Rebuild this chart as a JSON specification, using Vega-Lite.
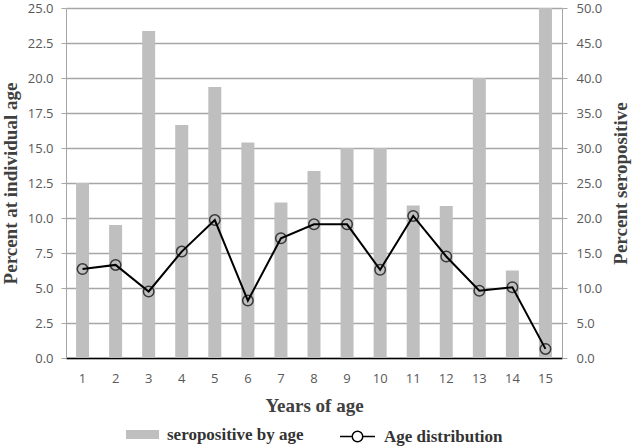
{
  "$schema": "https://vega.github.io/schema/vega-lite/v6.json",
  "width": 496,
  "height": 350,
  "autosize": {"type": "none"},
  "padding": {"left": 66, "top": 8, "right": 71, "bottom": 90},
  "background": "white",
  "data": {
    "values": [
      {"age": 1, "sero": 25.0, "dist": 6.35},
      {"age": 2, "sero": 19.0, "dist": 6.65},
      {"age": 3, "sero": 46.7, "dist": 4.75},
      {"age": 4, "sero": 33.3, "dist": 7.6},
      {"age": 5, "sero": 38.7, "dist": 9.85},
      {"age": 6, "sero": 30.8, "dist": 4.1},
      {"age": 7, "sero": 22.2, "dist": 8.55},
      {"age": 8, "sero": 26.7, "dist": 9.55},
      {"age": 9, "sero": 30.0, "dist": 9.55},
      {"age": 10, "sero": 30.0, "dist": 6.3},
      {"age": 11, "sero": 21.8, "dist": 10.15},
      {"age": 12, "sero": 21.7, "dist": 7.25},
      {"age": 13, "sero": 40.0, "dist": 4.8},
      {"age": 14, "sero": 12.5, "dist": 5.05},
      {"age": 15, "sero": 50.0, "dist": 0.65}
    ]
  },
  "encoding": {
    "x": {
      "field": "age",
      "type": "ordinal",
      "title": "Years of age",
      "axis": {
        "labelAngle": 0,
        "labelFont": "Open Sans",
        "labelFontSize": 13,
        "labelColor": "#595959",
        "labelPadding": 14,
        "ticks": false,
        "domainColor": "#000000",
        "domainWidth": 1.5,
        "titleFont": "Liberation Serif",
        "titleFontSize": 19,
        "titleFontWeight": "bold",
        "titleColor": "#404040",
        "titlePadding": 11
      }
    }
  },
  "layer": [
    {
      "mark": {"type": "bar", "size": 13},
      "encoding": {
        "y": {
          "field": "sero",
          "type": "quantitative",
          "scale": {"domain": [0, 50]},
          "title": "Percent seropositive",
          "axis": {
            "orient": "right",
            "values": [0, 5, 10, 15, 20, 25, 30, 35, 40, 45, 50],
            "format": ".1f",
            "grid": false,
            "labelFont": "Open Sans",
            "labelFontSize": 13,
            "labelColor": "#595959",
            "domainColor": "#a6a6a6",
            "tickColor": "#a6a6a6",
            "tickSize": 5,
            "labelPadding": 9,
            "titleFont": "Liberation Serif",
            "titleFontSize": 19,
            "titleFontWeight": "bold",
            "titleColor": "#404040",
            "titleAngle": 270,
            "titleAlign": "center",
            "titleBaseline": "middle",
            "titleX": 58,
            "titleY": 175
          }
        },
        "color": {
          "datum": "seropositive by age",
          "scale": {"range": ["#bfbfbf"]},
          "legend": {
            "title": null,
            "orient": "none",
            "legendX": 60,
            "legendY": 410,
            "padding": 0,
            "symbolType": "M-1,-0.27H1V0.27H-1Z",
            "symbolSize": 1089,
            "symbolFillColor": "#a6a6a6",
            "symbolStrokeWidth": 0,
            "labelOffset": 8,
            "labelFont": "Liberation Serif",
            "labelFontSize": 17,
            "labelFontWeight": "bold",
            "labelColor": "#333333"
          }
        }
      }
    },
    {
      "mark": {"type": "line", "strokeWidth": 2},
      "encoding": {
        "y": {
          "field": "dist",
          "type": "quantitative",
          "scale": {"domain": [0, 25]},
          "title": "Percent at individual age",
          "axis": {
            "orient": "left",
            "values": [0, 2.5, 5, 7.5, 10, 12.5, 15, 17.5, 20, 22.5, 25],
            "format": ".1f",
            "grid": true,
            "gridColor": "#a6a6a6",
            "gridWidth": 1.5,
            "labelFont": "Open Sans",
            "labelFontSize": 13,
            "labelColor": "#595959",
            "domainColor": "#a6a6a6",
            "tickColor": "#a6a6a6",
            "tickSize": 5,
            "labelPadding": 8,
            "titleFont": "Liberation Serif",
            "titleFontSize": 19,
            "titleFontWeight": "bold",
            "titleColor": "#404040",
            "titlePadding": 7
          }
        },
        "stroke": {
          "datum": "Age distribution",
          "scale": {"range": ["#000000"]},
          "legend": {
            "title": null,
            "orient": "none",
            "legendX": 273,
            "legendY": 410,
            "padding": 0,
            "symbolType": "M-1,0H-0.3M0.3,0H1M0.3,0A0.3,0.3 0 1,1 -0.3,0A0.3,0.3 0 1,1 0.3,0",
            "symbolSize": 1225,
            "symbolStrokeWidth": 1.5,
            "symbolFillColor": "transparent",
            "labelOffset": 8,
            "labelFont": "Liberation Serif",
            "labelFontSize": 17,
            "labelFontWeight": "bold",
            "labelColor": "#333333"
          }
        }
      }
    },
    {
      "mark": {"type": "point", "shape": "circle", "size": 110, "stroke": "#000000", "strokeWidth": 1.5, "filled": false},
      "encoding": {
        "y": {"field": "dist", "type": "quantitative", "scale": {"domain": [0, 25]}, "axis": null}
      }
    }
  ],
  "resolve": {"scale": {"y": "independent"}},
  "config": {
    "view": {"stroke": null},
    "scale": {"bandPaddingInner": 0.6, "bandPaddingOuter": 0.3}
  }
}
